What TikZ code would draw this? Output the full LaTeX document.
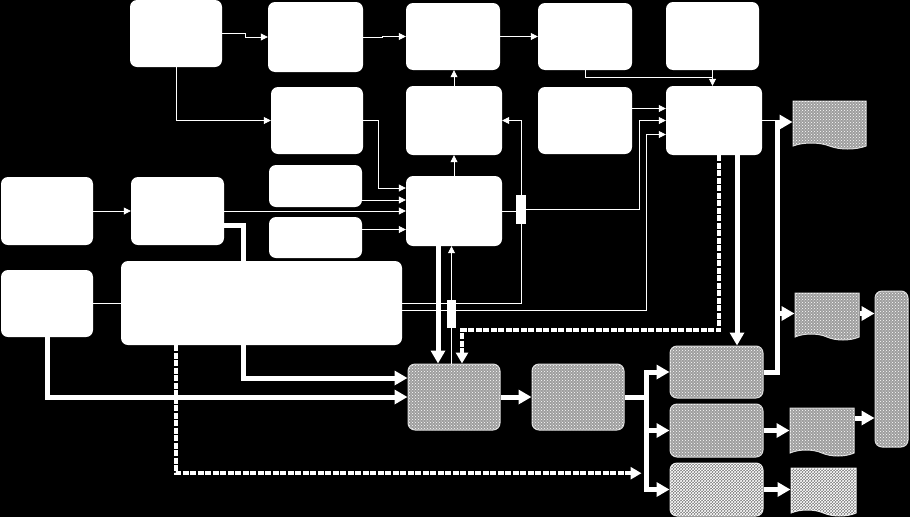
\documentclass[tikz,border=0pt]{standalone}
\usepackage{tikz}
\usetikzlibrary{arrows.meta,shapes.symbols,patterns}

\begin{document}
\begin{tikzpicture}[x=1pt, y=-1pt,
  box/.style={fill=white, rounded corners=7pt, inner sep=0pt},
  dbox/.style={fill=white!62!black, postaction={pattern=crosshatch dots, pattern color=white}, draw=white!85!black, line width=1pt, rounded corners=7pt, inner sep=0pt},
  xbox/.style={dbox, fill=white!48!black, postaction={pattern=crosshatch, pattern color=white}},
  doc/.style={tape, tape bend top=none, tape bend bottom=out and in, tape bend height=6pt, fill=white!62!black, postaction={pattern=crosshatch dots, pattern color=white}, draw=white!85!black, line width=1pt, inner sep=0pt},
  xdoc/.style={doc, fill=white!48!black, postaction={pattern=crosshatch, pattern color=white}},
  tap/.style={fill=white, inner sep=0pt},
  wire/.style={draw=white, line width=0.8pt},
  arr/.style={wire, -{Triangle[length=7pt,width=7pt]}},
  fatline/.style={draw=white, line width=5pt},
  fat/.style={fatline, -{Triangle[length=13pt,width=14pt]}},
  chainarr/.style={draw=white, line width=4pt, dash pattern=on 6pt off 1.5pt, -{Triangle[length=11pt,width=12pt]}}]
  \fill[black] (0,0) rectangle (910,517);
  \useasboundingbox (0,0) rectangle (910,517);
  % upper blocks
  \node[box, minimum width=92pt, minimum height=67pt] (a) at (176,33.5) {};
  \node[box, minimum width=95pt, minimum height=70pt] (b) at (315.5,37) {};
  \node[box, minimum width=94pt, minimum height=67pt] (c) at (453,36.5) {};
  \node[box, minimum width=94pt, minimum height=67pt] (d) at (585,36.5) {};
  \node[box, minimum width=93pt, minimum height=68pt] (e) at (712.5,36) {};
  \node[box, minimum width=92pt, minimum height=67pt] (f) at (317,120.5) {};
  \node[box, minimum width=96pt, minimum height=69pt] (g) at (454,120.5) {};
  \node[box, minimum width=94pt, minimum height=67pt] (h) at (585,120.5) {};
  \node[box, minimum width=96pt, minimum height=69pt] (i) at (714,120.5) {};
  \node[box, minimum width=92pt, minimum height=68pt] (j) at (47,211) {};
  \node[box, minimum width=93pt, minimum height=68pt] (k) at (177.5,211) {};
  \node[box, minimum width=93pt, minimum height=42pt] (l) at (315.5,186) {};
  \node[box, minimum width=93pt, minimum height=41pt] (m) at (315.5,237.5) {};
  \node[box, minimum width=96pt, minimum height=70pt] (n) at (454,211) {};
  \node[box, minimum width=92pt, minimum height=67pt] (o) at (47,303.5) {};
  \node[tap, minimum width=10pt, minimum height=29pt] (bar1) at (521,209.5) {};
  \node[tap, minimum width=9pt, minimum height=28pt] (bar2) at (451.5,314) {};
  % lower blocks
  \node[dbox, minimum width=92pt, minimum height=66pt] (r) at (454,397) {};
  \node[dbox, minimum width=92pt, minimum height=66pt] (s) at (578,397) {};
  \node[dbox, minimum width=93pt, minimum height=52pt] (t1) at (716.5,372) {};
  \node[dbox, minimum width=93pt, minimum height=53pt] (t2) at (716.5,430.5) {};
  \node[xbox, minimum width=93pt, minimum height=53pt] (t3) at (716.5,489.5) {};
  \node[doc, minimum width=73pt, minimum height=48pt] (doc1) at (829.5,122) {};
  \node[doc, minimum width=64pt, minimum height=47pt] (doc2) at (827,313.5) {};
  \node[doc, minimum width=64pt, minimum height=48pt] (doc3) at (822,429) {};
  \node[xdoc, minimum width=65pt, minimum height=48pt] (doc4) at (823.5,489) {};
  \node[dbox, minimum width=33pt, minimum height=156pt] (col) at (891.5,369) {};
  % thick line under the wide block
  \draw[fat] (k.east) ++(0,14) -- ++(19,0) |- ([yshift=19pt]r.west);
  \node[box, minimum width=281pt, minimum height=84pt] (q) at (261.5,303) {};
  % thin arrows
  \draw[arr] (a.east) -- ++(23,0) |- (b.west);
  \draw[arr] (b.east) -- ++(19,0) |- (c.west);
  \draw[arr] (c.east) -- (d.west);
  \draw[arr] (a.south) |- (f.west);
  \draw[wire] (d.south) -- ++(0,7) -| (e.south);
  \draw[arr] (e.south) -- (e.south |- i.north);
  \draw[arr] (g.north) -- (g.north |- c.south);
  \draw[arr] (n.north) -- (g.south);
  \draw[arr] (f.east) -- ++(15,0) |- ([yshift=23pt]n.west);
  \draw[arr] (l.east) ++(0,14) coordinate (l1) -- (l1 -| n.west);
  \draw[arr] (k.east) -- (n.west);
  \draw[arr] (m.east) ++(0,-8) coordinate (m1) -- (m1 -| n.west);
  \draw[arr] (j.east) -- (k.west);
  \draw[arr] (h.east) ++(0,-12) coordinate (h1) -- (h1 -| i.west);
  \draw[wire] (n.east) -- (n.east -| bar1.west);
  \draw[arr] (bar1.east) -- ++(113,0) |- (i.west);
  \draw[arr] (bar1.north) |- (g.east);
  \draw[wire] (bar1.south) |- ([yshift=11pt]bar2.east);
  \draw[wire] (o.east) -- (o.east -| q.west);
  \draw[wire] (q.east) -- (q.east -| bar2.west);
  \draw[wire] (q.east) ++(0,7) coordinate (q1) -- (q1 -| bar2.west);
  \draw[arr] (q1 -| bar2.east) -- ++(190,0) |- ([yshift=-14pt]i.west);
  \draw[arr] (bar2.north) -- (bar2.north |- n.south);
  \draw[wire] (bar2.south) -- (bar2.south |- r.north);
  \draw[wire] (i.east) -- ++(15,0);
  % thick arrows
  \draw[fat] (n.south) ++(-16,0) coordinate (n1) -- (n1 |- r.north);
  \draw[fat] (o.south) |- (r.west);
  \draw[fat] (r.east) -- (s.west);
  \draw[fatline] (s.east) -- ++(22,0) coordinate (fork);
  \draw[fat] (fork) |- (t1.west);
  \draw[fat] (fork) |- (t2.west);
  \draw[fat] (fork) |- (t3.west);
  \draw[fat] (t1.east) -- ++(14,0) coordinate (up) |- (doc1.west);
  \draw[fat] (up |- doc2.west) -- (doc2.west);
  \draw[fat] (i.south) ++(23,0) coordinate (i1) -- (i1 |- t1.north);
  \draw[fat] (t2.east) -- (t2.east -| doc3.west);
  \draw[fat] (t3.east) -- (t3.east -| doc4.west);
  \draw[fat] (doc2.east) -- (doc2.east -| col.west);
  \draw[fat] (doc3.east) ++(0,-11) coordinate (d3) -- (d3 -| col.west);
  % chained arrows
  \draw[chainarr] (i.south) ++(5,0) -- ++(0,175) -| ([xshift=8pt]r.north);
  \draw[chainarr, shorten >=5pt] (q.south) ++(-86,0) -- ++(0,128) coordinate (q2) -- (q2 -| fork);
\end{tikzpicture}
\end{document}
